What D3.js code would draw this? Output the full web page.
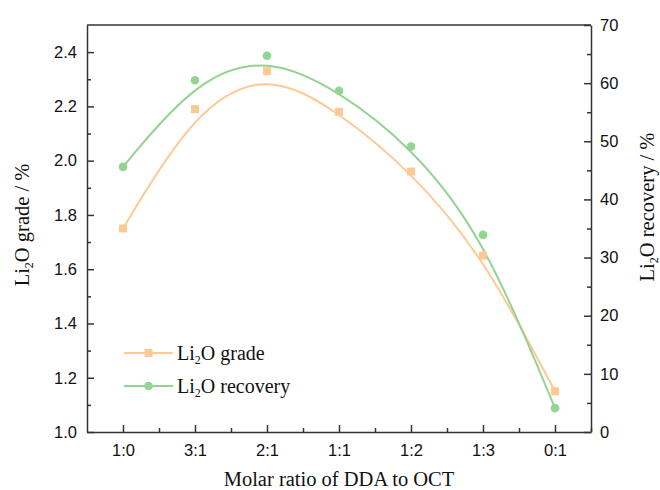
<!DOCTYPE html>
<html>
<head>
<meta charset="utf-8">
<script src="https://cdn.jsdelivr.net/npm/d3@7"></script>
<style>
  html, body { margin: 0; padding: 0; background: #fff; }
  svg { display: block; }
</style>
</head>
<body>
<svg id="chart" width="660" height="490"></svg>
<script>
// Flotation results versus collector molar ratio
const categories = ["1:0", "3:1", "2:1", "1:1", "1:2", "1:3", "0:1"];
const gradeValues = [1.75, 2.19, 2.33, 2.18, 1.96, 1.65, 1.15];      // Li2O grade, %
const recoveryValues = [45.6, 60.5, 64.7, 58.7, 49.1, 33.9, 4.1];   // Li2O recovery, %
const leftTicks = [1.0, 1.2, 1.4, 1.6, 1.8, 2.0, 2.2, 2.4];
const rightTicks = [0, 10, 20, 30, 40, 50, 60, 70];

const gradeColor = "#fdc994";
const recoveryColor = "#93d493";

const margin = { left: 87, right: 69, top: 25, bottom: 58 };
const W = 660, H = 490;
const svg = d3.select("#chart");

const x = d3.scaleLinear().domain([0.5, categories.length + 0.5]).range([margin.left, W - margin.right]);
const yL = d3.scaleLinear().domain([1.0, 2.5]).range([H - margin.bottom, margin.top]);
const yR = d3.scaleLinear().domain([0, 70]).range([H - margin.bottom, margin.top]);

const idx = categories.map((_, i) => i + 1);
const g = svg.append("g");

// smooth B-spline connections through the data
g.append("path")
  .attr("d", d3.line().curve(d3.curveBasis).x((d, i) => x(i + 1)).y(d => yL(d))(gradeValues))
  .attr("fill", "none").attr("stroke", gradeColor).attr("stroke-width", 2);
g.append("path")
  .attr("d", d3.line().curve(d3.curveBasis).x((d, i) => x(i + 1)).y(d => yR(d))(recoveryValues))
  .attr("fill", "none").attr("stroke", recoveryColor).attr("stroke-width", 2);

// markers
g.selectAll("rect.grade").data(gradeValues).enter().append("rect")
  .attr("class", "grade")
  .attr("x", (d, i) => x(i + 1) - 4).attr("y", d => yL(d) - 4)
  .attr("width", 8).attr("height", 8).attr("fill", gradeColor);
g.selectAll("circle.rec").data(recoveryValues).enter().append("circle")
  .attr("class", "rec")
  .attr("cx", (d, i) => x(i + 1)).attr("cy", d => yR(d))
  .attr("r", 4.3).attr("fill", recoveryColor);

// frame
const axisColor = "#333";
svg.append("line").attr("x1", margin.left).attr("x2", W - margin.right)
  .attr("y1", margin.top).attr("y2", margin.top)
  .attr("stroke", axisColor).attr("stroke-width", 1.5);

const tickFont = "Liberation Sans, Arial, sans-serif";
const serif = "Liberation Serif, Times New Roman, serif";

function styleAxis(sel) {
  sel.select(".domain").attr("stroke", axisColor).attr("stroke-width", 1.5);
  sel.selectAll(".tick line").attr("stroke", axisColor).attr("stroke-width", 1.5);
  sel.selectAll(".tick text").attr("fill", "#111").style("font-family", tickFont).style("font-size", "16.5px");
}
function minorStyle(s) {
  s.select(".domain").remove();
  s.selectAll("line").attr("stroke", axisColor).attr("stroke-width", 1.5);
}

// bottom axis: major ticks at categories, minor ticks between
const xMinor = d3.range(1.5, categories.length + 1, 1);
svg.append("g").attr("transform", `translate(0,${H - margin.bottom})`)
  .call(d3.axisBottom(x).tickValues(xMinor).tickSize(-4).tickFormat(""))
  .call(minorStyle);
svg.append("g").attr("transform", `translate(0,${H - margin.bottom})`)
  .call(d3.axisBottom(x).tickValues(idx).tickSizeInner(-7).tickSizeOuter(0).tickPadding(12).tickFormat((d, i) => categories[i]))
  .call(styleAxis);

// left axis
const leftMinor = d3.range(1.1, 2.5, 0.2);
svg.append("g").attr("transform", `translate(${margin.left},0)`)
  .call(d3.axisLeft(yL).tickValues(leftMinor).tickSize(-4).tickFormat(""))
  .call(minorStyle);
svg.append("g").attr("transform", `translate(${margin.left},0)`)
  .call(d3.axisLeft(yL).tickValues(leftTicks).tickSizeInner(-7).tickSizeOuter(0).tickPadding(10).tickFormat(d3.format(".1f")))
  .call(styleAxis);

// right axis
const rightMinor = d3.range(5, 70, 10);
svg.append("g").attr("transform", `translate(${W - margin.right},0)`)
  .call(d3.axisRight(yR).tickValues(rightMinor).tickSize(-4).tickFormat(""))
  .call(minorStyle);
svg.append("g").attr("transform", `translate(${W - margin.right},0)`)
  .call(d3.axisRight(yR).tickValues(rightTicks).tickSizeInner(-7).tickSizeOuter(0).tickPadding(9))
  .call(styleAxis);

// axis titles with subscript 2
function liTitle(sel, rest) {
  sel.append("tspan").text("Li");
  sel.append("tspan").text("2").attr("baseline-shift", "-30%").style("font-size", "12px");
  sel.append("tspan").text("O" + rest);
}
const titleSize = "20.5px";
svg.append("text")
  .attr("transform", "translate(29,225) rotate(-90)")
  .attr("text-anchor", "middle").style("font-family", serif).style("font-size", titleSize).attr("fill", "#111")
  .call(liTitle, " grade / %");
svg.append("text")
  .attr("transform", "translate(654,207) rotate(-90)")
  .attr("text-anchor", "middle").style("font-family", serif).style("font-size", titleSize).attr("fill", "#111")
  .call(liTitle, " recovery / %");
svg.append("text")
  .attr("x", x((1 + categories.length) / 2)).attr("y", 486)
  .attr("text-anchor", "middle").style("font-family", serif).style("font-size", titleSize).attr("fill", "#111")
  .text("Molar ratio of DDA to OCT");

// legend
const legend = [
  { label: " grade", color: gradeColor, shape: "square" },
  { label: " recovery", color: recoveryColor, shape: "circle" }
];
const lg = svg.append("g").attr("transform", "translate(124,353)");
legend.forEach((d, i) => {
  const row = lg.append("g").attr("transform", `translate(0,${i * 33})`);
  row.append("line").attr("x1", 0).attr("x2", 49).attr("stroke", d.color).attr("stroke-width", 2);
  if (d.shape === "square") row.append("rect").attr("x", 20.5).attr("y", -4).attr("width", 8).attr("height", 8).attr("fill", d.color);
  else row.append("circle").attr("cx", 24.5).attr("r", 4.3).attr("fill", d.color);
  row.append("text").attr("x", 53).attr("y", 7)
    .style("font-family", serif).style("font-size", "20px").attr("fill", "#111")
    .call(liTitle, d.label);
});
</script>
</body>
</html>
